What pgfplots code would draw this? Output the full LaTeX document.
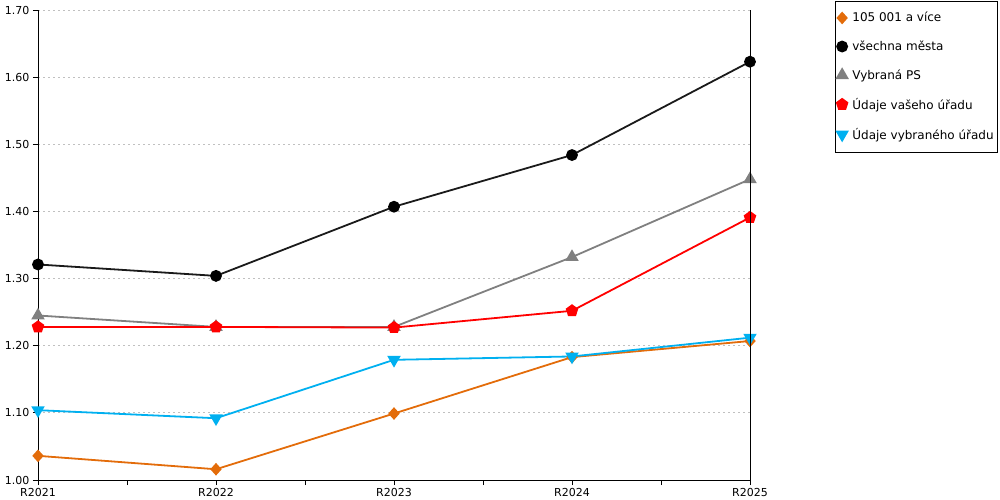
\documentclass[border=0pt]{standalone}
\usepackage{pgfplots}
\pgfplotsset{compat=1.18}
\usepackage{fontspec}
\setmainfont{DejaVu Sans}
\definecolor{cOrange}{HTML}{E36C0A}
\definecolor{cBlack}{HTML}{1A1A1A}
\definecolor{cGray}{HTML}{808080}
\definecolor{cRed}{HTML}{FF0000}
\definecolor{cCyan}{HTML}{00B0F0}
\definecolor{cGrid}{HTML}{C0C0C0}
\begin{document}
\begin{tikzpicture}[font=\fontsize{11bp}{13bp}\selectfont]
\useasboundingbox (-38bp,-20bp) rectangle (962bp,480bp);
\begin{axis}[
  name=ax,
  scale only axis, width=712bp, height=470bp,
  xmin=0, xmax=4, ymin=1, ymax=1.7,
  axis x line*=bottom, axis y line*=left,
  axis line style={black, line width=0.9bp},
  xtick={0,1,2,3,4},
  xticklabels={R2021,R2022,R2023,R2024,R2025},
  minor xtick={0.5,1.5,2.5,3.5},
  ytick={1,1.1,1.2,1.3,1.4,1.5,1.6,1.7},
  tick align=outside, major tick length=5bp, minor tick length=5bp,
  every tick/.style={black, line width=0.9bp},
  ymajorgrids,
  y grid style={cGrid, line width=0.8bp, dash pattern=on 2bp off 3bp},
  yticklabel style={/pgf/number format/.cd, fixed, fixed zerofill, precision=2, assume math mode=true},
  ticklabel style={font=\fontsize{11bp}{13bp}\selectfont},
  every axis plot/.append style={line width=1.8bp},
  legend cell align=left,
  legend image code/.code={\draw[#1,only marks,mark repeat=2,mark phase=2] plot coordinates {(0bp,0bp) (4bp,0bp) (8bp,0bp)};},
  legend style={at={(1.1187,1.0202)}, anchor=north west, draw=black, line width=0.8bp,
    font=\fontsize{12bp}{14bp}\selectfont, inner xsep=2bp, inner ysep=9.5bp, row sep=13.5bp,
    /tikz/every odd column/.append style={column sep=3bp}},
]
\addplot[cOrange, mark=diamond*, mark size=5bp, mark options={solid, xscale=1.2}] coordinates {(0,1.036) (1,1.016) (2,1.099) (3,1.183) (4,1.207)};
\addlegendentry{105 001 a více}
\addplot[cBlack, mark=*, mark size=5bp, mark options={black}] coordinates {(0,1.321) (1,1.304) (2,1.407) (3,1.484) (4,1.623)};
\addlegendentry{všechna města}
\addplot[cGray, mark=triangle*, mark size=6bp] coordinates {(0,1.245) (1,1.228) (2,1.228) (3,1.332) (4,1.448)};
\addlegendentry{Vybraná PS}
\addplot[cRed, mark=pentagon*, mark size=5.5bp] coordinates {(0,1.228) (1,1.228) (2,1.227) (3,1.252) (4,1.391)};
\addlegendentry{Údaje vašeho úřadu}
\addplot[cCyan, mark=triangle*, mark size=6bp, mark options={rotate=180}] coordinates {(0,1.104) (1,1.092) (2,1.179) (3,1.184) (4,1.212)};
\addlegendentry{Údaje vybraného úřadu}
\end{axis}
\draw[black, line width=0.9bp] (ax.south east) -- (ax.north east);
\end{tikzpicture}
\end{document}
